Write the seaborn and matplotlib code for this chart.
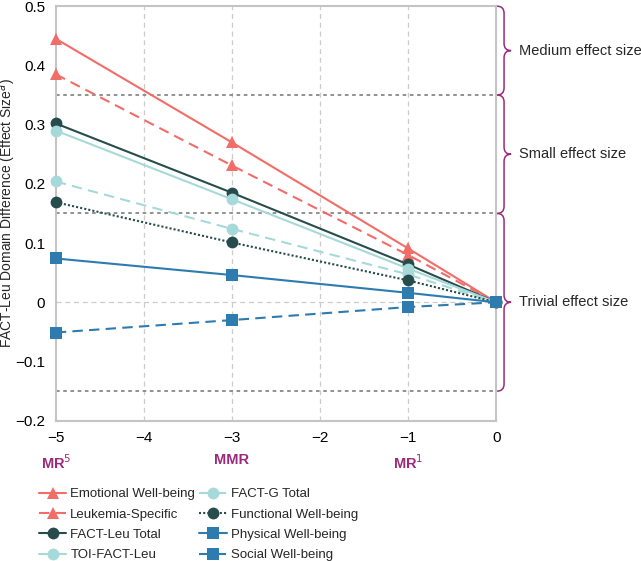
import numpy as np
import pandas as pd
import matplotlib
matplotlib.use("Agg")
import matplotlib.pyplot as plt
import seaborn as sns
from matplotlib.path import Path
from matplotlib.patches import PathPatch
from matplotlib.ticker import FuncFormatter

# data
dose = [-5, -3, -1, 0]
emotional = [0.445, 0.270, 0.091, 0.0]
leukemia = [0.385, 0.231, 0.080, 0.0]
fact_leu = [0.302, 0.185, 0.064, 0.0]
toi = [0.290, 0.174, 0.057, 0.0]
fact_g = [0.204, 0.124, 0.047, 0.0]
functional = [0.169, 0.101, 0.037, 0.0]
physical = [0.074, 0.046, 0.016, 0.0]
social = [-0.051, -0.030, -0.008, 0.0]

series_names = ["Emotional Well-being", "Leukemia-Specific", "FACT-Leu Total", "TOI-FACT-Leu",
                "FACT-G Total", "Functional Well-being", "Physical Well-being", "Social Well-being"]
series_vals = [emotional, leukemia, fact_leu, toi, fact_g, functional, physical, social]

red = "#F26C68"
dark = "#264D4B"
light = "#A6D9D9"
blue = "#2E7BAF"
purple = "#9C2A7C"
styles = {
    "Emotional Well-being": (red, "^", "-"),
    "Leukemia-Specific": (red, "^", (0, (5, 3))),
    "FACT-Leu Total": (dark, "o", "-"),
    "TOI-FACT-Leu": (light, "o", "-"),
    "FACT-G Total": (light, "o", (0, (5, 3))),
    "Functional Well-being": (dark, "o", (0, (1, 1))),
    "Physical Well-being": (blue, "s", "-"),
    "Social Well-being": (blue, "s", (0, (5, 3))),
}

thresholds = [0.35, 0.15, -0.15]
bands = [(0.35, 0.5, "Medium effect size"), (0.15, 0.35, "Small effect size"),
         (-0.15, 0.15, "Trivial effect size")]
regimen_pos = [-5, -3, -1]
regimen_lab = ["MR$^{5}$", "MMR", "MR$^{1}$"]

sns.set_style("white")
plt.rcParams['font.family'] = ['Liberation Sans', 'DejaVu Sans']

fig = plt.figure(figsize=(6.41, 5.61), dpi=100)
ax = fig.add_axes([0.087, 0.25, 0.687, 0.739])

for name, vals in zip(series_names, series_vals):
    c, m, ls = styles[name]
    sns.lineplot(x=dose, y=vals, ax=ax, color=c, marker=m, linestyle=ls,
                 markersize=8.5, markeredgewidth=0, linewidth=1.5, label=name,
                 clip_on=False, zorder=3)

for t in thresholds:
    ax.axhline(t, color="#888888", linestyle=(0, (2, 2)), linewidth=1.3, zorder=1)

ax.set_xlim(-5, 0)
ax.set_ylim(-0.2, 0.5)
ax.set_xticks([-5, -4, -3, -2, -1, 0])
ax.set_yticks(np.arange(-0.2, 0.51, 0.1))
fmt = FuncFormatter(lambda v, p: ("%g" % round(v, 2)).replace("-", "\u2212"))
ax.xaxis.set_major_formatter(fmt)
ax.yaxis.set_major_formatter(fmt)
ax.tick_params(labelsize=11, colors="#bbbbbb", labelcolor="black", length=4, width=1)

ax.grid(False)
for xv in [-4, -3, -2, -1]:
    ax.axvline(xv, color="#cccccc", linestyle=(0, (4, 3)), linewidth=0.9, zorder=0)
ax.axhline(0, color="#cccccc", linestyle=(0, (4, 3)), linewidth=0.9, zorder=0)

for s in ax.spines.values():
    s.set_color("#c4c4c4")
    s.set_linewidth(1.5)

ax.set_ylabel("FACT-Leu Domain Difference (Effect Size$^{a}$)", fontsize=10)
ax.yaxis.set_label_coords(-0.086, 0.5)

for xp, lab in zip(regimen_pos, regimen_lab):
    ax.text(xp, -0.255, lab, ha="center", va="top", color=purple, fontsize=10.5,
            fontweight="bold", transform=ax.transData)


def brace(ax, y0, y1, x0=0.01, w=0.16):
    ym = (y0 + y1) / 2
    r = 0.012
    verts = [(x0, y1), (x0 + w / 2, y1), (x0 + w / 2, y1 - r),
             (x0 + w / 2, ym + r), (x0 + w / 2, ym), (x0 + w, ym),
             (x0 + w / 2, ym), (x0 + w / 2, ym - r),
             (x0 + w / 2, y0 + r), (x0 + w / 2, y0), (x0, y0)]
    codes = [Path.MOVETO, Path.CURVE3, Path.CURVE3,
             Path.LINETO, Path.CURVE3, Path.CURVE3,
             Path.CURVE3, Path.CURVE3,
             Path.LINETO, Path.CURVE3, Path.CURVE3]
    ax.add_patch(PathPatch(Path(verts, codes), fill=False, edgecolor=purple,
                           linewidth=1.1, clip_on=False))


for y0, y1, lab in bands:
    brace(ax, y0, y1)
    ax.text(0.26, (y0 + y1) / 2, lab, ha="left", va="center", fontsize=10.5)

handles, labels = ax.get_legend_handles_labels()
ax.get_legend().remove()
fig.legend(handles, labels, ncol=2, loc="upper left", bbox_to_anchor=(0.05, 0.142),
           frameon=False, fontsize=9.5,
           handlelength=2.1, handletextpad=0.3, columnspacing=0.3, labelspacing=0.62, borderpad=0)

fig.savefig("out.png", dpi=100)
